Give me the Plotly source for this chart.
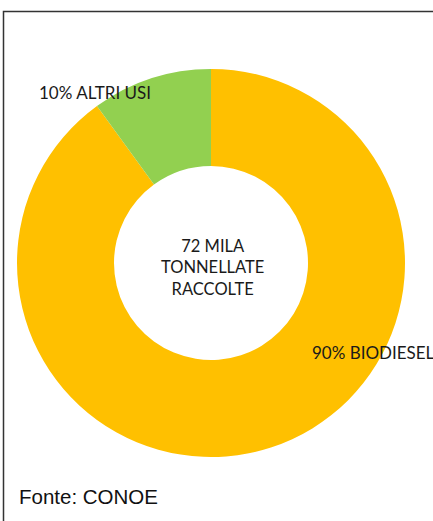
import plotly.graph_objects as go

W, H = 433, 521
labels = ["BIODIESEL", "ALTRI USI"]
values = [90, 10]
colors = ["#FFC000", "#92D050"]
center_text = "72 MILA<br>TONNELLATE<br>RACCOLTE"
source = "Fonte: CONOE"

cx, cy, R = 211, 263, 194

fig = go.Figure(go.Pie(
    labels=labels, values=values, hole=0.5, sort=False,
    direction="clockwise", rotation=0,
    marker=dict(colors=colors, line=dict(width=0)),
    textinfo="none", hoverinfo="label+percent", showlegend=False,
    domain=dict(x=[(cx - R) / W, (cx + R) / W], y=[1 - (cy + R) / H, 1 - (cy - R) / H]),
))

font = dict(family="Lato, Open Sans, sans-serif", size=17, color="#1a1a1a")
ann = [
    dict(text=f"{values[1]}% {labels[1]}", x=37 / W, y=1 - 92 / H, xanchor="left", yanchor="middle"),
    dict(text=f"{values[0]}% {labels[0]}", x=310 / W, y=1 - 352 / H, xanchor="left", yanchor="middle"),
    dict(text=center_text, x=212 / W, y=1 - 267 / H, xanchor="center", yanchor="middle",
         font=dict(family="Lato, Open Sans, sans-serif", size=16.5, color="#1a1a1a")),
]
annotations = [dict(dict(showarrow=False, font=font, xref="paper", yref="paper"), **a) for a in ann]
annotations.append(dict(text=source, xref="paper", yref="paper", x=17 / W, y=1 - 496 / H,
                        xanchor="left", yanchor="middle", showarrow=False,
                        font=dict(family="Liberation Sans, Arial, sans-serif", size=20.5, color="#111")))

fig.update_layout(
    width=W, height=H, margin=dict(l=0, r=0, t=0, b=0),
    paper_bgcolor="white", plot_bgcolor="white",
    annotations=annotations,
    shapes=[dict(type="rect", xref="paper", yref="paper", x0=3.5 / W, x1=1.05, y0=-0.05, y1=1 - 11.5 / H,
                 line=dict(color="#333", width=1.5))],
)
fig.write_html("out.html")
